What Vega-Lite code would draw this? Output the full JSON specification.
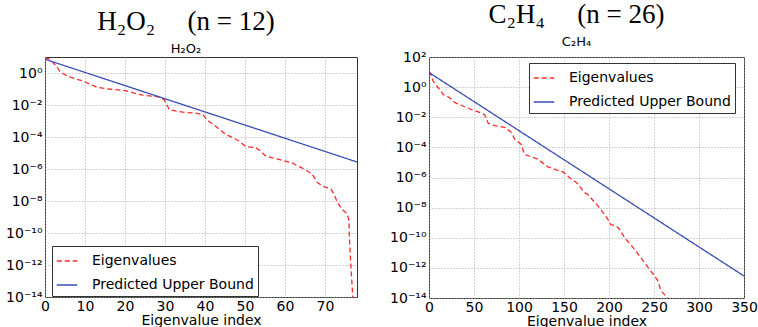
{
  "$schema": "https://vega.github.io/schema/vega-lite/v6.json",
  "padding": {"left": 5, "top": 0, "right": 5, "bottom": 0},
  "background": "white",
  "bounds": "flush",
  "spacing": 72,
  "config": {
    "view": {"stroke": "#333", "strokeWidth": 1},
    "axis": {
      "domain": false,
      "ticks": false,
      "grid": true,
      "gridColor": "#a8a8a8",
      "gridDash": [1, 2],
      "gridWidth": 1,
      "labelFont": "DejaVu Sans",
      "labelFontSize": 14,
      "labelColor": "black",
      "labelFlush": false,
      "titleFont": "DejaVu Sans",
      "titleFontSize": 14,
      "titleFontWeight": "normal",
      "titleColor": "black",
      "labelPadding": 3,
      "titlePadding": 0
    },
    "axisX": {"labelPadding": 2, "titleBaseline": "alphabetic", "titlePadding": 11},
    "legend": {
      "strokeColor": "#333",
      "fillColor": "white",
      "padding": 4,
      "labelFont": "DejaVu Sans",
      "labelFontSize": 14,
      "labelColor": "black",
      "labelLimit": 400,
      "labelOffset": 14,
      "symbolType": "stroke",
      "symbolSize": 420,
      "symbolStrokeWidth": 1.5,
      "rowPadding": 6,
      "cornerRadius": 0
    }
  },
  "resolve": {
    "scale": {"color": "independent", "strokeDash": "independent"},
    "legend": {"color": "independent", "strokeDash": "independent"}
  },
  "hconcat": [
    {
      "width": 312,
      "height": 240,
      "title": {
        "text": "H₂O₂\u2003\u2009(n = 12)",
        "subtitle": "H₂O₂",
        "font": "Liberation Serif",
        "fontSize": 27,
        "fontWeight": "normal",
        "color": "black",
        "subtitleFont": "DejaVu Sans",
        "subtitleFontSize": 13,
        "subtitleColor": "black",
        "subtitlePadding": 7,
        "offset": 0,
        "anchor": "middle",
        "dx": -15
      },
      "data": {
        "values": [
          {"i": 0, "v": 8.91, "s": "Eigenvalues"},
          {"i": 1.2, "v": 7.24, "s": "Eigenvalues"},
          {"i": 2.8, "v": 2.75, "s": "Eigenvalues"},
          {"i": 3.7, "v": 1.26, "s": "Eigenvalues"},
          {"i": 5.7, "v": 0.603, "s": "Eigenvalues"},
          {"i": 9.5, "v": 0.316, "s": "Eigenvalues"},
          {"i": 13, "v": 0.126, "s": "Eigenvalues"},
          {"i": 16, "v": 0.1, "s": "Eigenvalues"},
          {"i": 20, "v": 0.0794, "s": "Eigenvalues"},
          {"i": 24, "v": 0.0427, "s": "Eigenvalues"},
          {"i": 28.6, "v": 0.0316, "s": "Eigenvalues"},
          {"i": 29.8, "v": 0.0214, "s": "Eigenvalues"},
          {"i": 31.1, "v": 0.00501, "s": "Eigenvalues"},
          {"i": 34.5, "v": 0.00355, "s": "Eigenvalues"},
          {"i": 38, "v": 0.00302, "s": "Eigenvalues"},
          {"i": 39.5, "v": 0.00251, "s": "Eigenvalues"},
          {"i": 40.5, "v": 0.00112, "s": "Eigenvalues"},
          {"i": 42, "v": 6.31e-4, "s": "Eigenvalues"},
          {"i": 45, "v": 1.58e-4, "s": "Eigenvalues"},
          {"i": 48.5, "v": 5.62e-5, "s": "Eigenvalues"},
          {"i": 50.2, "v": 2.51e-5, "s": "Eigenvalues"},
          {"i": 52.7, "v": 2.14e-5, "s": "Eigenvalues"},
          {"i": 54, "v": 1.26e-5, "s": "Eigenvalues"},
          {"i": 55.2, "v": 6.31e-6, "s": "Eigenvalues"},
          {"i": 58.5, "v": 3.98e-6, "s": "Eigenvalues"},
          {"i": 61.8, "v": 2.4e-6, "s": "Eigenvalues"},
          {"i": 63.1, "v": 1.58e-6, "s": "Eigenvalues"},
          {"i": 64.8, "v": 1.0e-6, "s": "Eigenvalues"},
          {"i": 66.8, "v": 4.68e-7, "s": "Eigenvalues"},
          {"i": 68.1, "v": 1.41e-7, "s": "Eigenvalues"},
          {"i": 69.5, "v": 8.32e-8, "s": "Eigenvalues"},
          {"i": 71.5, "v": 5.37e-8, "s": "Eigenvalues"},
          {"i": 72.4, "v": 2.24e-8, "s": "Eigenvalues"},
          {"i": 73.1, "v": 7.94e-9, "s": "Eigenvalues"},
          {"i": 74.3, "v": 3.02e-9, "s": "Eigenvalues"},
          {"i": 75.6, "v": 1.48e-9, "s": "Eigenvalues"},
          {"i": 76, "v": 5.62e-10, "s": "Eigenvalues"},
          {"i": 76.1, "v": 5.01e-11, "s": "Eigenvalues"},
          {"i": 76.4, "v": 1.78e-12, "s": "Eigenvalues"},
          {"i": 76.8, "v": 3.98e-14, "s": "Eigenvalues"},
          {"i": 77, "v": 3.16e-15, "s": "Eigenvalues"},
          {"i": 0, "v": 7.24, "s": "Predicted Upper Bound"},
          {"i": 78, "v": 2.75e-6, "s": "Predicted Upper Bound"}
        ]
      },
      "mark": {"type": "line", "strokeWidth": 1.3, "clip": true},
      "encoding": {
        "x": {
          "field": "i", "type": "quantitative",
          "scale": {"domain": [0, 78], "nice": false, "zero": false},
          "axis": {"values": [0, 10, 20, 30, 40, 50, 60, 70], "title": "Eigenvalue index"}
        },
        "y": {
          "field": "v", "type": "quantitative",
          "scale": {"type": "log", "domain": [1e-14, 10], "nice": false},
          "axis": {
            "values": [1e-14, 1e-12, 1e-10, 1e-8, 1e-6, 1e-4, 1e-2, 1],
            "title": null,
            "labelExpr": "['10⁻¹⁴','10⁻¹²','10⁻¹⁰','10⁻⁸','10⁻⁶','10⁻⁴','10⁻²','10⁰','10²'][round((round(log(datum.value)/LN10)+14)/2)]"
          }
        },
        "color": {
          "field": "s", "type": "nominal",
          "scale": {"domain": ["Eigenvalues", "Predicted Upper Bound"], "range": ["#ff2a2a", "#3a4db5"]},
          "legend": {"orient": "none", "legendX": 7, "legendY": 189, "title": null}
        },
        "strokeDash": {
          "field": "s", "type": "nominal",
          "scale": {"domain": ["Eigenvalues", "Predicted Upper Bound"], "range": [[5, 3], [1, 0]]},
          "legend": {"orient": "none", "legendX": 7, "legendY": 189, "title": null}
        }
      }
    },
    {
      "width": 315,
      "height": 241,
      "title": {
        "text": "C₂H₄\u2003\u2009(n = 26)",
        "subtitle": "C₂H₄",
        "font": "Liberation Serif",
        "fontSize": 27,
        "fontWeight": "normal",
        "color": "black",
        "subtitleFont": "DejaVu Sans",
        "subtitleFontSize": 13,
        "subtitleColor": "black",
        "subtitlePadding": 7,
        "offset": 0,
        "anchor": "middle",
        "dx": -10
      },
      "data": {
        "values": [
          {"i": 0, "v": 11.2, "s": "Eigenvalues"},
          {"i": 1.4, "v": 8.91, "s": "Eigenvalues"},
          {"i": 4.6, "v": 2.51, "s": "Eigenvalues"},
          {"i": 11.8, "v": 0.692, "s": "Eigenvalues"},
          {"i": 15.8, "v": 0.324, "s": "Eigenvalues"},
          {"i": 22.8, "v": 0.2, "s": "Eigenvalues"},
          {"i": 29, "v": 0.0933, "s": "Eigenvalues"},
          {"i": 44, "v": 0.038, "s": "Eigenvalues"},
          {"i": 57, "v": 0.0204, "s": "Eigenvalues"},
          {"i": 62, "v": 0.0141, "s": "Eigenvalues"},
          {"i": 65.8, "v": 0.00398, "s": "Eigenvalues"},
          {"i": 73, "v": 0.00282, "s": "Eigenvalues"},
          {"i": 84, "v": 0.00214, "s": "Eigenvalues"},
          {"i": 91.5, "v": 0.001, "s": "Eigenvalues"},
          {"i": 95, "v": 3.63e-4, "s": "Eigenvalues"},
          {"i": 102.5, "v": 1.58e-4, "s": "Eigenvalues"},
          {"i": 106, "v": 3.55e-5, "s": "Eigenvalues"},
          {"i": 113, "v": 2.4e-5, "s": "Eigenvalues"},
          {"i": 121, "v": 1.66e-5, "s": "Eigenvalues"},
          {"i": 132, "v": 5.01e-6, "s": "Eigenvalues"},
          {"i": 143, "v": 3.02e-6, "s": "Eigenvalues"},
          {"i": 149, "v": 2.34e-6, "s": "Eigenvalues"},
          {"i": 158, "v": 7.94e-7, "s": "Eigenvalues"},
          {"i": 165, "v": 3.98e-7, "s": "Eigenvalues"},
          {"i": 172.7, "v": 1.0e-7, "s": "Eigenvalues"},
          {"i": 176, "v": 7.94e-8, "s": "Eigenvalues"},
          {"i": 187.5, "v": 1.35e-8, "s": "Eigenvalues"},
          {"i": 194.8, "v": 3.72e-9, "s": "Eigenvalues"},
          {"i": 198.6, "v": 1.74e-9, "s": "Eigenvalues"},
          {"i": 202, "v": 7.41e-10, "s": "Eigenvalues"},
          {"i": 207.8, "v": 6.31e-10, "s": "Eigenvalues"},
          {"i": 211.5, "v": 3.8e-10, "s": "Eigenvalues"},
          {"i": 217, "v": 1.07e-10, "s": "Eigenvalues"},
          {"i": 228, "v": 1.82e-11, "s": "Eigenvalues"},
          {"i": 239, "v": 2.4e-12, "s": "Eigenvalues"},
          {"i": 248.7, "v": 4.07e-13, "s": "Eigenvalues"},
          {"i": 254, "v": 1.48e-13, "s": "Eigenvalues"},
          {"i": 257.7, "v": 3.16e-14, "s": "Eigenvalues"},
          {"i": 264, "v": 1.17e-14, "s": "Eigenvalues"},
          {"i": 268, "v": 5.01e-15, "s": "Eigenvalues"},
          {"i": 0, "v": 9.33, "s": "Predicted Upper Bound"},
          {"i": 350, "v": 2.88e-13, "s": "Predicted Upper Bound"}
        ]
      },
      "mark": {"type": "line", "strokeWidth": 1.3, "clip": true},
      "encoding": {
        "x": {
          "field": "i", "type": "quantitative",
          "scale": {"domain": [0, 350], "nice": false, "zero": false},
          "axis": {"values": [0, 50, 100, 150, 200, 250, 300, 350], "title": "Eigenvalue index"}
        },
        "y": {
          "field": "v", "type": "quantitative",
          "scale": {"type": "log", "domain": [1e-14, 100], "nice": false},
          "axis": {
            "values": [1e-14, 1e-12, 1e-10, 1e-8, 1e-6, 1e-4, 1e-2, 1, 100],
            "title": null,
            "labelExpr": "['10⁻¹⁴','10⁻¹²','10⁻¹⁰','10⁻⁸','10⁻⁶','10⁻⁴','10⁻²','10⁰','10²'][round((round(log(datum.value)/LN10)+14)/2)]"
          }
        },
        "color": {
          "field": "s", "type": "nominal",
          "scale": {"domain": ["Eigenvalues", "Predicted Upper Bound"], "range": ["#ff2a2a", "#3a4db5"]},
          "legend": {"orient": "none", "legendX": 100, "legendY": 6, "title": null}
        },
        "strokeDash": {
          "field": "s", "type": "nominal",
          "scale": {"domain": ["Eigenvalues", "Predicted Upper Bound"], "range": [[5, 3], [1, 0]]},
          "legend": {"orient": "none", "legendX": 100, "legendY": 6, "title": null}
        }
      }
    }
  ]
}
